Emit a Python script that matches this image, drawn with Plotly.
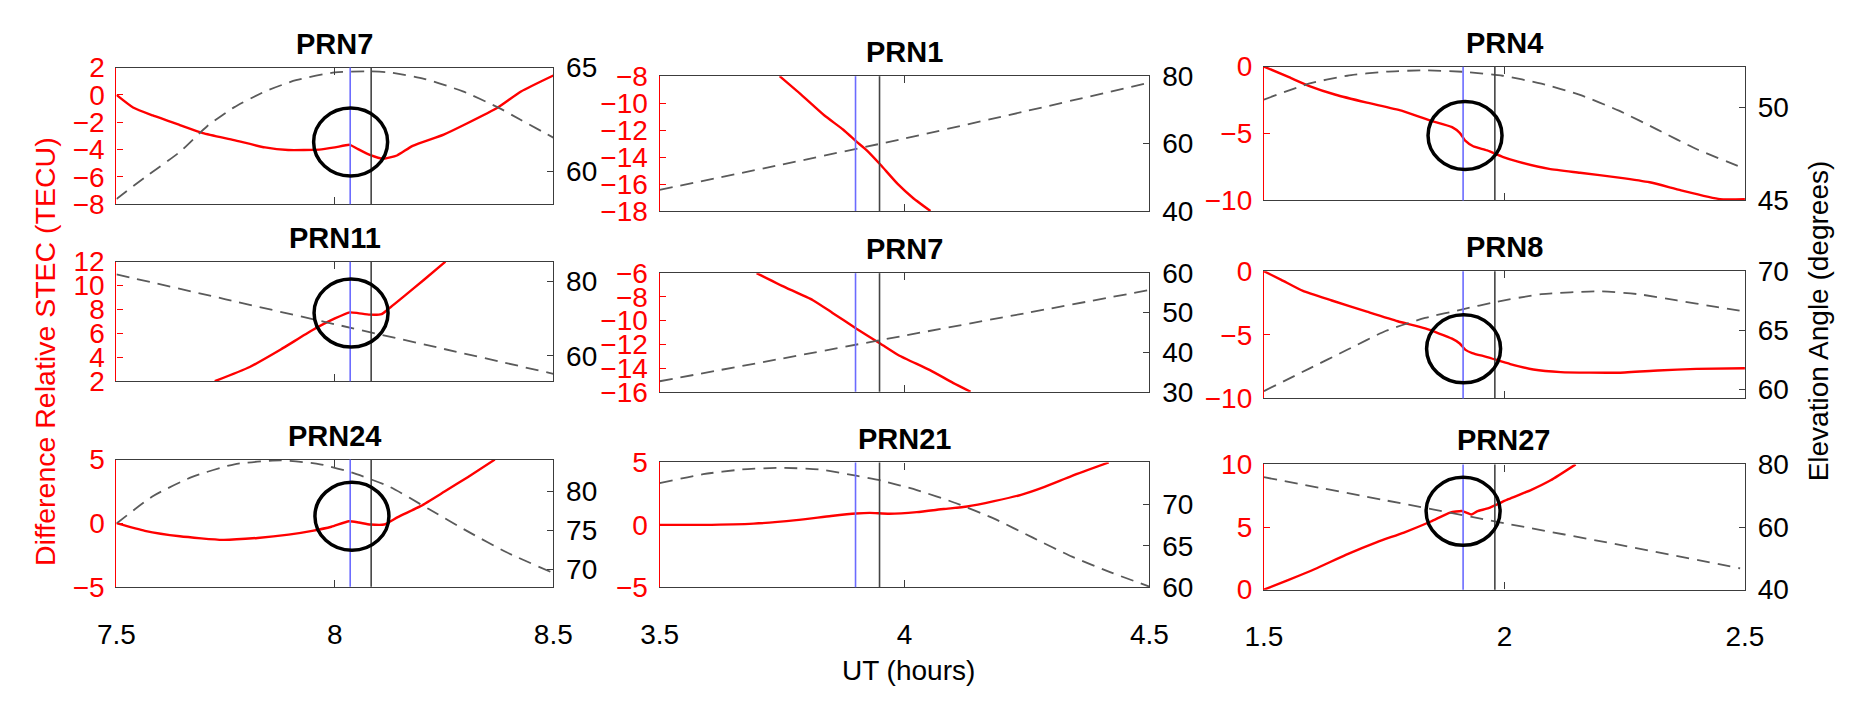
import plotly.graph_objects as go

W, H = 1857, 707

# ---------------- data ----------------
titles = ["PRN7", "PRN1", "PRN4", "PRN11", "PRN7", "PRN8", "PRN24", "PRN21", "PRN27"]

col_x_range = [[7.5, 8.5], [3.5, 4.5], [1.5, 2.5]]
col_x_ticks = [[7.5, 8, 8.5], [3.5, 4, 4.5], [1.5, 2, 2.5]]
col_x_text = [["7.5", "8", "8.5"], ["3.5", "4", "4.5"], ["1.5", "2", "2.5"]]

stec_range = [[-8, 2], [-18, -8], [-10, 0], [2, 12], [-16, -6], [-10, 0], [-5, 5], [-5, 5], [0, 10]]
stec_ticks = [[-8, -6, -4, -2, 0, 2], [-18, -16, -14, -12, -10, -8], [-10, -5, 0],
              [2, 4, 6, 8, 10, 12], [-16, -14, -12, -10, -8, -6], [-10, -5, 0],
              [-5, 0, 5], [-5, 0, 5], [0, 5, 10]]
elev_range = [[58.4, 65], [40, 80], [45, 52.2], [53.2, 85.3], [30, 60], [59.25, 70],
              [67.8, 84.1], [60, 75.1], [40, 80]]
elev_ticks = [[60, 65], [40, 60, 80], [45, 50], [60, 80], [30, 40, 50, 60], [60, 65, 70],
              [70, 75, 80], [60, 65, 70], [40, 60, 80]]

# event markers per column (UT hours)
blue_ut = [8.035, 3.90, 1.914]
black_ut = [8.083, 3.949, 1.98]

# circled regions (panel index, UT, STEC)
circle_panel = [0, 2, 3, 5, 6, 8]
circle_ut = [8.036, 1.918, 8.037, 1.915, 8.039, 1.914]
circle_stec = [-3.44, -5.14, 7.70, -6.1, 0.55, 6.25]

# Panel A: PRN7 (7.5-8.5 UT)
a_ut = [7.5, 7.538, 7.583, 7.645, 7.698, 7.769, 7.840, 7.893, 7.964, 8.0, 8.034, 8.053,
        8.080, 8.111, 8.142, 8.178, 8.249, 8.302, 8.373, 8.426, 8.5]
a_stec = [0, -0.92, -1.5, -2.2, -2.79, -3.3, -3.84, -4.03, -4.0, -3.84, -3.65, -3.96,
          -4.38, -4.66, -4.43, -3.72, -2.9, -2.09, -0.92, 0.25, 1.42]
a_el_ut = [7.5, 7.565, 7.645, 7.707, 7.769, 7.84, 7.911, 8.0, 8.071, 8.124, 8.204, 8.293,
           8.373, 8.426, 8.5]
a_el = [58.66, 59.70, 60.93, 62.16, 63.08, 63.85, 64.39, 64.77, 64.82, 64.77, 64.46, 63.85,
        63.08, 62.47, 61.62]

# Panel B: PRN1 (3.5-4.5 UT)
b_ut = [3.745, 3.789, 3.836, 3.875, 3.902, 3.923, 3.951, 3.986, 4.018, 4.053]
b_stec = [-8, -9.37, -10.9, -11.97, -12.85, -13.5, -14.57, -15.99, -17.05, -18]
b_el_ut = [3.5, 3.75, 4.0, 4.25, 4.5]
b_el = [46.3, 53.8, 61.5, 69.7, 78.1]

# Panel C: PRN4 (1.5-2.5 UT)
c_ut = [1.5, 1.552, 1.593, 1.649, 1.714, 1.786, 1.843, 1.891, 1.907, 1.919, 1.935, 1.964,
        1.996, 2.028, 2.093, 2.157, 2.238, 2.302, 2.367, 2.448, 2.5]
c_stec = [0, -0.79, -1.43, -2.1, -2.69, -3.29, -4.0, -4.52, -4.95, -5.55, -5.95, -6.26,
          -6.74, -7.1, -7.64, -7.93, -8.29, -8.64, -9.24, -9.9, -9.9]
c_el_ut = [1.5, 1.593, 1.673, 1.754, 1.835, 1.915, 1.996, 2.077, 2.157, 2.238, 2.319, 2.399, 2.5]
c_el = [50.43, 51.28, 51.71, 51.93, 52.0, 51.92, 51.71, 51.28, 50.68, 49.83, 48.80, 47.77, 46.71]

# Panel D: PRN11 (7.5-8.5 UT)
d_ut = [7.725, 7.805, 7.876, 7.947, 8.0, 8.034, 8.053, 8.08, 8.107, 8.12, 8.16, 8.204, 8.253]
d_stec = [2, 3.19, 4.65, 6.24, 7.25, 7.76, 7.7, 7.57, 7.62, 7.97, 9.16, 10.49, 12]
d_el_ut = [7.5, 7.75, 8.0, 8.25, 8.5]
d_el = [81.9, 75.2, 68.5, 61.85, 55.2]

# Panel E: PRN7 (3.5-4.5 UT)
e_ut = [3.698, 3.75, 3.813, 3.853, 3.902, 3.951, 3.988, 4.052, 4.099, 4.135]
e_stec = [-6, -7.07, -8.28, -9.35, -10.69, -11.95, -12.92, -14.18, -15.25, -16]
e_el_ut = [3.5, 3.75, 4.0, 4.25, 4.5]
e_el = [32.65, 38.4, 44.2, 49.95, 55.74]

# Panel F: PRN8 (1.5-2.5 UT)
f_ut = [1.5, 1.536, 1.581, 1.641, 1.714, 1.778, 1.835, 1.891, 1.907, 1.919, 1.933, 1.964,
        2.012, 2.06, 2.117, 2.238, 2.319, 2.399, 2.5]
f_stec = [0, -0.675, -1.55, -2.3, -3.18, -3.93, -4.5, -5.3, -5.68, -6.18, -6.43, -6.75,
          -7.3, -7.73, -7.93, -7.98, -7.8, -7.68, -7.63]
f_el_ut = [1.5, 1.593, 1.673, 1.754, 1.835, 1.915, 1.98, 2.077, 2.198, 2.278, 2.359, 2.44, 2.5]
f_el = [59.87, 61.75, 63.36, 64.97, 66.05, 66.8, 67.39, 68.06, 68.3, 68.06, 67.53, 66.99, 66.59]

# Panel G: PRN24 (7.5-8.5 UT)
g_ut = [7.5, 7.565, 7.645, 7.743, 7.823, 7.894, 7.948, 7.992, 8.032, 8.055, 8.081, 8.113,
        8.144, 8.197, 8.251, 8.304, 8.366]
g_stec = [0, -0.6, -1.03, -1.31, -1.16, -0.9, -0.6, -0.28, 0.15, 0.05, -0.1, -0.1,
          0.48, 1.36, 2.49, 3.62, 5]
g_el_ut = [7.5, 7.583, 7.672, 7.77, 7.877, 7.966, 8.037, 8.126, 8.215, 8.304, 8.393, 8.5]
g_el = [75.9, 79.4, 81.85, 83.5, 84.0, 83.5, 82.47, 80.6, 77.76, 74.9, 72.22, 69.56]

# Panel H: PRN21 (3.5-4.5 UT)
h_ut = [3.5, 3.589, 3.692, 3.779, 3.85, 3.901, 3.929, 3.969, 4.025, 4.08, 4.128, 4.183,
        4.238, 4.286, 4.342, 4.417]
h_stec = [0, 0, 0.1, 0.38, 0.71, 0.91, 0.96, 0.89, 1.02, 1.27, 1.47, 1.9, 2.41, 3.05, 3.93, 5]
h_el_ut = [3.5, 3.589, 3.668, 3.747, 3.826, 3.901, 3.953, 4.025, 4.104, 4.183, 4.262, 4.342,
           4.421, 4.5]
h_el = [72.6, 73.68, 74.25, 74.45, 74.25, 73.5, 72.9, 71.76, 70.2, 68.3, 66.0, 63.7, 61.8, 60.08]

# Panel I: PRN27 (1.5-2.5 UT)
i_ut = [1.5, 1.55, 1.606, 1.67, 1.735, 1.791, 1.847, 1.887, 1.911, 1.921, 1.931, 1.943,
        1.967, 2.008, 2.056, 2.096, 2.148]
i_stec = [0, 0.76, 1.65, 2.78, 3.8, 4.56, 5.44, 6.15, 6.28, 6.15, 6.0, 6.25, 6.51, 7.22,
          7.97, 8.73, 10]
i_el_ut = [1.5, 1.75, 2.0, 2.25, 2.49]
i_el = [75.9, 68.6, 61.2, 54.0, 46.8]

stec_series = [(a_ut, a_stec), (b_ut, b_stec), (c_ut, c_stec), (d_ut, d_stec), (e_ut, e_stec),
               (f_ut, f_stec), (g_ut, g_stec), (h_ut, h_stec), (i_ut, i_stec)]
elev_series = [(a_el_ut, a_el), (b_el_ut, b_el), (c_el_ut, c_el), (d_el_ut, d_el), (e_el_ut, e_el),
               (f_el_ut, f_el), (g_el_ut, g_el), (h_el_ut, h_el), (i_el_ut, i_el)]

# ---------------- layout geometry (pixels) ----------------
cols_px = [(99.5, 545.5), (654, 1154), (1271, 1762)]
rows_px = [[(55, 198), (64, 205), (54, 194)],
           [(258, 383), (270, 394), (268, 401)],
           [(465, 598), (468, 598.5), (470, 601)]]

FONT = "Liberation Sans, Arial, sans-serif"
RED = "#ff0000"
DARK = "#3c3c3c"
TICK_SIZE = 28


def ref(prefix, k):
    return prefix if k == 1 else f"{prefix}{k}"


def lay(prefix, k):
    return f"{prefix}axis" if k == 1 else f"{prefix}axis{k}"


fig = go.Figure()
layout = dict(width=W, height=H, margin=dict(l=0, r=0, t=0, b=0, pad=0),
              paper_bgcolor="white", plot_bgcolor="white", showlegend=False,
              font=dict(family=FONT, size=TICK_SIZE, color="black"))
shapes = []
annotations = []

for p in range(9):
    r, c = divmod(p, 3)
    xn = p + 1
    yl = 2 * p + 1
    yr = 2 * p + 2
    L, R = cols_px[c]
    T, B = rows_px[r][c]
    xdom = [L / W, R / W]
    ydom = [1 - B / H, 1 - T / H]

    layout[lay("x", xn)] = dict(
        domain=xdom, anchor=ref("y", yl), range=col_x_range[c],
        tickvals=col_x_ticks[c], ticktext=col_x_text[c], showticklabels=(r == 2),
        ticks="inside", ticklen=7, tickcolor=DARK, tickwidth=1.2,
        showline=True, linecolor=DARK, linewidth=1.3, mirror="ticks",
        showgrid=False, zeroline=False, ticklabelstandoff=22,
        tickfont=dict(size=TICK_SIZE, color="black", family=FONT))
    layout[lay("y", yl)] = dict(
        domain=ydom, anchor=ref("x", xn), range=stec_range[p], tickvals=stec_ticks[p],
        ticks="inside", ticklen=6, tickcolor=RED, tickwidth=1.2,
        showline=True, linecolor=RED, linewidth=1.3, showgrid=False, zeroline=False,
        ticklabelstandoff=5, tickfont=dict(size=TICK_SIZE, color=RED, family=FONT))
    layout[lay("y", yr)] = dict(
        overlaying=ref("y", yl), anchor=ref("x", xn), side="right", range=elev_range[p],
        tickvals=elev_ticks[p], ticks="inside", ticklen=6, tickcolor=DARK, tickwidth=1.2,
        showline=True, linecolor=DARK, linewidth=1.3, showgrid=False, zeroline=False,
        ticklabelstandoff=6, tickfont=dict(size=TICK_SIZE, color="black", family=FONT))

    ex, ey = elev_series[p]
    fig.add_trace(go.Scatter(x=ex, y=ey, xaxis=ref("x", xn), yaxis=ref("y", yr), mode="lines",
                             line=dict(color="#5a5a5a", width=1.8, dash="13px,8px",
                                       shape="spline", smoothing=0.6),
                             hoverinfo="skip"))
    sx, sy = stec_series[p]
    fig.add_trace(go.Scatter(x=sx, y=sy, xaxis=ref("x", xn), yaxis=ref("y", yl), mode="lines",
                             line=dict(color=RED, width=2.4, shape="spline", smoothing=0.5),
                             hoverinfo="skip"))

    shapes.append(dict(type="line", xref=ref("x", xn), yref=f"{ref('y', yl)} domain",
                       x0=blue_ut[c], x1=blue_ut[c], y0=0, y1=1,
                       line=dict(color="#6b6bff", width=1.6), layer="above"))
    shapes.append(dict(type="line", xref=ref("x", xn), yref=f"{ref('y', yl)} domain",
                       x0=black_ut[c], x1=black_ut[c], y0=0, y1=1,
                       line=dict(color="#444444", width=1.6), layer="above"))

    annotations.append(dict(text=f"<b>{titles[p]}</b>", xref="paper", yref="paper",
                            x=(L + R) / 2 / W, y=1 - (T - 25) / H, xanchor="center",
                            yanchor="middle", showarrow=False,
                            font=dict(size=29, color="black", family=FONT)))

for k, p in enumerate(circle_panel):
    xn = p + 1
    yl = 2 * p + 1
    shapes.append(dict(type="circle", xref=ref("x", xn), yref=ref("y", yl),
                       xsizemode="pixel", ysizemode="pixel",
                       xanchor=circle_ut[k], yanchor=circle_stec[k],
                       x0=-37, x1=37, y0=-34, y1=34,
                       line=dict(color="black", width=3.5), layer="above"))

annotations.append(dict(text="Difference Relative STEC (TECU)", xref="paper", yref="paper",
                        x=26 / W, y=1 - 352 / H, textangle=-90, showarrow=False,
                        xanchor="center", yanchor="middle",
                        font=dict(size=28.5, color=RED, family=FONT)))
annotations.append(dict(text="Elevation Angle (degrees)", xref="paper", yref="paper",
                        x=1838 / W, y=1 - 320 / H, textangle=-90, showarrow=False,
                        xanchor="center", yanchor="middle",
                        font=dict(size=28, color="black", family=FONT)))
annotations.append(dict(text="UT (hours)", xref="paper", yref="paper",
                        x=908 / W, y=1 - 686 / H, showarrow=False,
                        xanchor="center", yanchor="middle",
                        font=dict(size=28, color="black", family=FONT)))

layout["shapes"] = shapes
layout["annotations"] = annotations
fig.update_layout(**layout)

fig.write_html("out.html")
